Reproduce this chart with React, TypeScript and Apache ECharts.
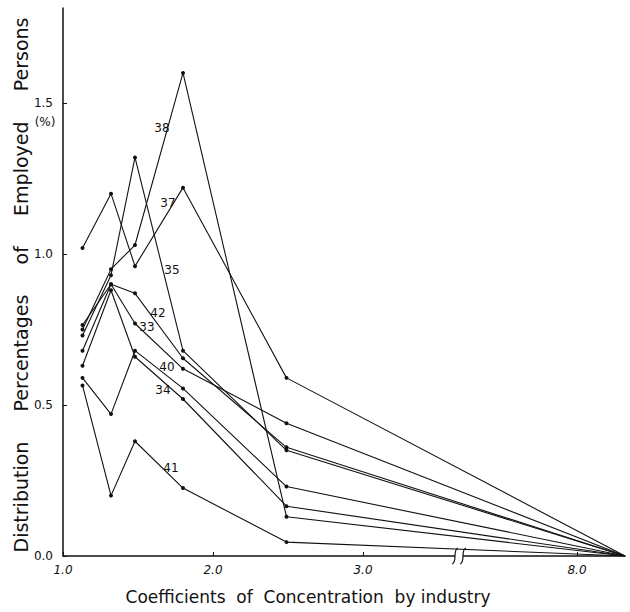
import React, { useEffect, useRef } from "react";
import * as echarts from "echarts";

// Coefficients of concentration (real x values); last point is the convergence point beyond the axis break
const X_REAL = [1.13, 1.32, 1.48, 1.8, 2.49, 8.32];
const X_TICKS_REAL = [1, 2, 3, 8];
const Y_TICKS = [0, 0.5, 1.0, 1.5];

const S33 = [0.68, 0.9, 0.77, 0.62, 0.44, 0];
const S34 = [0.63, 0.88, 0.66, 0.52, 0.165, 0];
const S35 = [0.73, 0.93, 1.32, 0.68, 0.35, 0];
const S37 = [1.02, 1.2, 0.96, 1.22, 0.59, 0];
const S38 = [0.75, 0.95, 1.03, 1.6, 0.13, 0];
const S40 = [0.59, 0.47, 0.68, 0.555, 0.23, 0];
const S41 = [0.565, 0.2, 0.38, 0.225, 0.046, 0];
const S42 = [0.765, 0.9, 0.87, 0.655, 0.36, 0];

const SERIES_NAMES = ["33", "34", "35", "37", "38", "40", "41", "42"];
const SERIES_VALUES = [S33, S34, S35, S37, S38, S40, S41, S42];

// axis break: values above BREAK_AT are shifted left by BREAK_SHIFT
const BREAK_AT = 3.6;
const BREAK_SHIFT = 3.573;
const toDisplay = (v: number) => (v <= BREAK_AT ? v : v - BREAK_SHIFT);
const toReal = (d: number) => (d <= BREAK_AT ? d : d + BREAK_SHIFT);

// label anchor positions (pixels) for the series numbers
const LABEL_POS: Record<string, [number, number]> = {
  "38": [162, 128],
  "37": [168, 203],
  "35": [172, 270],
  "42": [158, 313],
  "33": [147, 327],
  "40": [167, 367],
  "34": [163, 390],
  "41": [171, 468],
};

const FONT = "DejaVu Sans";

export default function App() {
  const ref = useRef<HTMLDivElement>(null);
  useEffect(() => {
    if (!ref.current) return;
    const chart = echarts.init(ref.current, undefined, { renderer: "svg" });
    const xDisplayTicks = X_TICKS_REAL.map(toDisplay);
    const series = SERIES_NAMES.map((name, i) => ({
      name,
      type: "line",
      data: SERIES_VALUES[i].map((v, j) =>
        j === X_REAL.length - 1
          ? { value: [toDisplay(X_REAL[j]), v], symbol: "none" }
          : { value: [toDisplay(X_REAL[j]), v] }
      ),
      symbol: "circle",
      symbolSize: 4,
      showSymbol: true,
      lineStyle: { color: "#111", width: 1.1 },
      itemStyle: { color: "#111" },
      emphasis: { disabled: true },
      z: 3,
    }));

    const labelGraphics = Object.keys(LABEL_POS).map((k) => ({
      type: "text",
      x: LABEL_POS[k][0],
      y: LABEL_POS[k][1],
      style: {
        text: k,
        fill: "#111",
        font: `12px "${FONT}"`,
        align: "center",
        verticalAlign: "middle",
      },
      z: 10,
    }));

    chart.setOption({
      animation: false,
      backgroundColor: "#fff",
      grid: {
        left: 63,
        right: 5,
        top: 8,
        bottom: 56,
        containLabel: false,
        outerBoundsMode: "none",
      },
      xAxis: {
        type: "value",
        min: 1,
        max: toDisplay(8.32),
        splitLine: { show: false },
        axisLine: { show: true, lineStyle: { color: "#111", width: 1.5 } },
        axisTick: {
          show: true,
          inside: true,
          length: 4,
          customValues: xDisplayTicks,
          lineStyle: { color: "#111" },
        },
        axisLabel: {
          customValues: xDisplayTicks,
          formatter: (v: number) => toReal(v).toFixed(1),
          fontFamily: FONT,
          fontSize: 12,
          fontStyle: "italic",
          color: "#111",
          margin: 8,
        },
      },
      yAxis: {
        type: "value",
        min: 0,
        max: 1.815,
        splitLine: { show: false },
        axisLine: { show: true, lineStyle: { color: "#111", width: 1.5 } },
        axisTick: {
          show: true,
          inside: true,
          length: 4,
          customValues: Y_TICKS,
          lineStyle: { color: "#111" },
        },
        axisLabel: {
          customValues: Y_TICKS,
          formatter: (v: number) => v.toFixed(1),
          fontFamily: FONT,
          fontSize: 12,
          color: "#111",
          margin: 10,
        },
      },
      graphic: [
        ...labelGraphics,
        {
          type: "text",
          x: 21,
          y: 285,
          rotation: Math.PI / 2,
          style: {
            text: "Distribution     Percentages     of     Employed     Persons",
            fill: "#111",
            font: `19px "${FONT}"`,
            align: "center",
            verticalAlign: "middle",
          },
        },
        {
          type: "text",
          x: 308,
          y: 597,
          style: {
            text: "Coefficients  of  Concentration  by industry",
            fill: "#111",
            font: `17px "${FONT}"`,
            align: "center",
            verticalAlign: "middle",
          },
        },
        {
          type: "text",
          x: 45,
          y: 122,
          style: {
            text: "(%)",
            fill: "#111",
            font: `12px "${FONT}"`,
            align: "center",
            verticalAlign: "middle",
          },
        },
        {
          type: "rect",
          shape: { x: 455, y: 553, width: 8, height: 6 },
          style: { fill: "#fff" },
          z: 20,
        },
        {
          type: "bezierCurve",
          shape: { x1: 452, y1: 564, x2: 458, y2: 548, cpx1: 458, cpy1: 562, cpx2: 452, cpy2: 550 },
          style: { stroke: "#111", fill: "none", lineWidth: 1.2 },
          z: 21,
        },
        {
          type: "bezierCurve",
          shape: { x1: 460, y1: 564, x2: 466, y2: 548, cpx1: 466, cpy1: 562, cpx2: 460, cpy2: 550 },
          style: { stroke: "#111", fill: "none", lineWidth: 1.2 },
          z: 21,
        },
      ],
      series,
    });
    return () => chart.dispose();
  }, []);
  return (
    <div
      ref={ref}
      style={{ position: "absolute", left: 0, top: 0, width: 630, height: 612 }}
    />
  );
}
